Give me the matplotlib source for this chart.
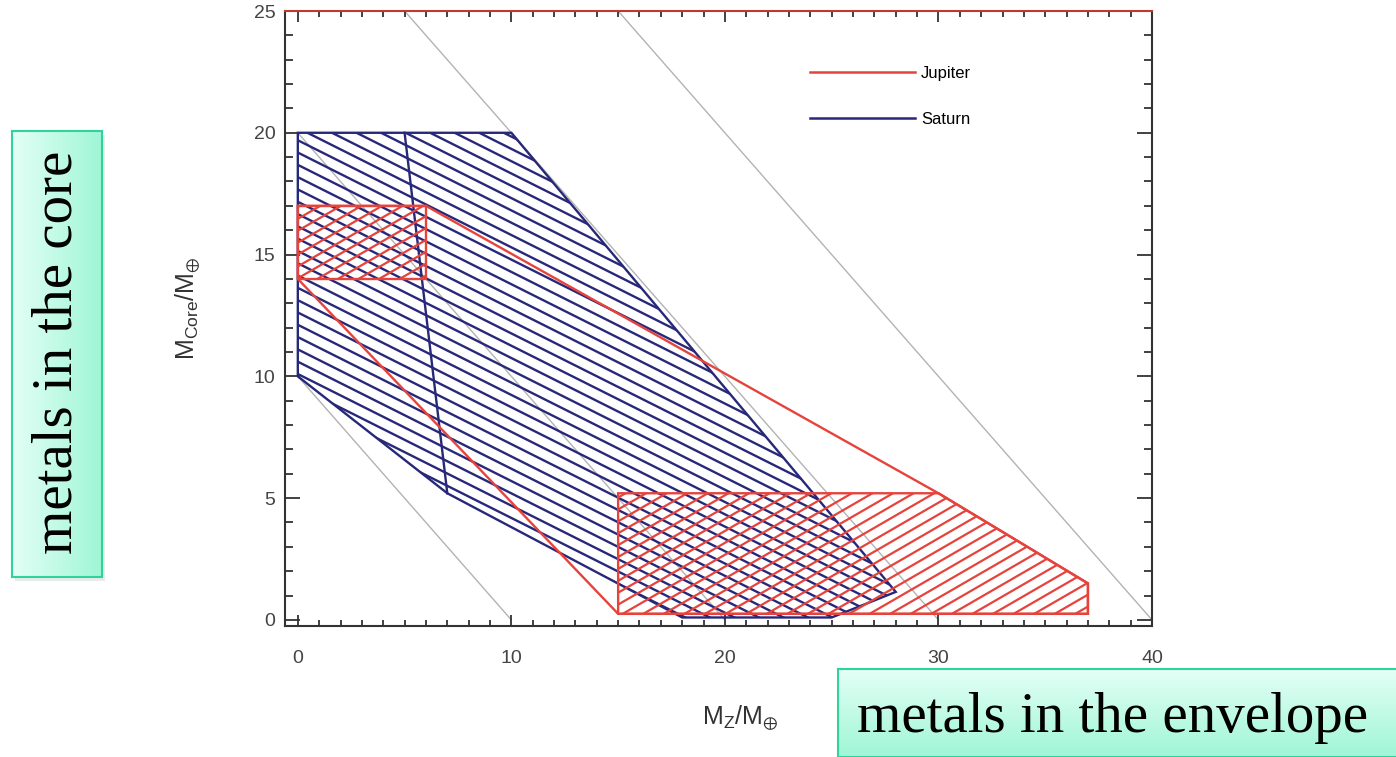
import numpy as np
import matplotlib
matplotlib.use("Agg")
import matplotlib.pyplot as plt
from matplotlib.patches import Polygon
from matplotlib.collections import LineCollection
from matplotlib.lines import Line2D
from matplotlib.ticker import MultipleLocator
from matplotlib.colors import LinearSegmentedColormap

# ---------------- data ----------------
saturn_x = [0, 10, 28, 25, 18, 7, 0]
saturn_y = [20, 20, 1.15, 0.1, 0.1, 5.2, 10]
saturn_split_x = [5, 7]
saturn_split_y = [20, 5.2]

jupiter_x = [0, 6, 30, 37, 37, 15, 0]
jupiter_y = [17, 17, 5.2, 1.5, 0.25, 0.25, 14]
jupiter_core_x = [0, 6, 6, 0]
jupiter_core_y = [14, 14, 17, 17]
jupiter_env_x = [15, 30, 37, 37, 15]
jupiter_env_y = [5.2, 5.2, 1.5, 0.25, 0.25]

total_mass = [10, 20, 30, 40]

series_labels = ["Jupiter", "Saturn"]
x_ticks = [0, 10, 20, 30, 40]
y_ticks = [0, 5, 10, 15, 20, 25]

RED = "#e5433b"
NAVY = "#28287a"

plt.rcParams["font.family"] = ["Liberation Sans", "DejaVu Sans"]
plt.rcParams["mathtext.fontset"] = "custom"
plt.rcParams["mathtext.rm"] = "Liberation Sans"
plt.rcParams["mathtext.it"] = "Liberation Sans"

W, H = 1396, 757
fig = plt.figure(figsize=(W / 100, H / 100), dpi=100)
ax = fig.add_axes([285 / W, 1 - 626 / H, (1152 - 285) / W, (626 - 11) / H])
ax.set_xlim(-0.6, 39.95)
ax.set_ylim(-0.25, 25)

# constant total-mass lines
for c in total_mass:
    ys = np.array([0, min(c, 25)])
    ax.plot(c - ys, ys, color="#b3b3b3", lw=1.0, zorder=1)


def add_hatch(xs, ys, color, angle_deg, spacing_px, lw, z):
    poly = Polygon(np.column_stack([xs, ys]), closed=True, fill=False,
                   edgecolor="none", transform=ax.transData)
    ax.add_patch(poly)
    bb = ax.bbox
    cx, cy = (bb.x0 + bb.x1) / 2, (bb.y0 + bb.y1) / 2
    L = np.hypot(bb.width, bb.height)
    a = np.deg2rad(angle_deg)
    d = np.array([np.cos(a), np.sin(a)])
    n = np.array([-np.sin(a), np.cos(a)])
    inv = ax.transData.inverted()
    segs = []
    for off in np.arange(-L, L, spacing_px):
        p0 = np.array([cx, cy]) + n * off - d * L
        p1 = np.array([cx, cy]) + n * off + d * L
        segs.append(inv.transform(np.vstack([p0, p1])))
    lc = LineCollection(segs, colors=color, linewidths=lw, zorder=z)
    ax.add_collection(lc)
    lc.set_clip_path(poly)


# Saturn
add_hatch(saturn_x, saturn_y, NAVY, -26.6, 11.0, 1.7, 2)
ax.add_patch(Polygon(np.column_stack([saturn_x, saturn_y]), closed=True,
                     fill=False, edgecolor=NAVY, lw=1.7, zorder=3))
ax.plot(saturn_split_x, saturn_split_y, color=NAVY, lw=1.7, zorder=3)

# Jupiter
add_hatch(jupiter_core_x, jupiter_core_y, RED, 30, 10.3, 1.6, 4)
add_hatch(jupiter_env_x, jupiter_env_y, RED, 30, 10.3, 1.6, 4)
ax.add_patch(Polygon(np.column_stack([jupiter_x, jupiter_y]), closed=True,
                     fill=False, edgecolor=RED, lw=1.7, zorder=5))
ax.add_patch(Polygon(np.column_stack([jupiter_core_x, jupiter_core_y]), closed=True,
                     fill=False, edgecolor=RED, lw=1.7, zorder=5))
ax.add_patch(Polygon(np.column_stack([jupiter_env_x, jupiter_env_y]), closed=True,
                     fill=False, edgecolor=RED, lw=1.7, zorder=5))

# axes styling
ax.set_xticks(x_ticks)
ax.set_yticks(y_ticks)
ax.xaxis.set_minor_locator(MultipleLocator(1))
ax.yaxis.set_minor_locator(MultipleLocator(1))
ax.tick_params(which="both", direction="in", top=True, right=True,
               color="#333333", width=1.3, labelcolor="#444444", labelsize=14)
ax.tick_params(axis="x", which="major", length=8, pad=17)
ax.tick_params(axis="x", which="minor", length=4.5)
ax.tick_params(axis="y", which="major", length=11, pad=7)
ax.tick_params(axis="y", which="minor", length=6)
for s in ax.spines.values():
    s.set_color("#333333")
    s.set_linewidth(1.5)
ax.spines["top"].set_color("#c0392b")

# legend
handles = [Line2D([], [], color=RED, lw=1.8), Line2D([], [], color=NAVY, lw=1.8)]
ax.legend(handles, series_labels, loc="upper left",
          bbox_to_anchor=(810 / W, 1 - 66 / H), bbox_transform=fig.transFigure,
          frameon=False, fontsize=12, borderpad=0, borderaxespad=0,
          handlelength=6.3, handletextpad=0.35, labelspacing=1.85)

# axis labels
fig.text(740 / W, 1 - 718 / H, r"$\mathregular{M_{Z}/M_{\oplus}}$",
         ha="center", va="center", fontsize=18, color="#333333")
fig.text(188 / W, 1 - 308 / H, r"$\mathregular{M_{Core}/M_{\oplus}}$",
         ha="center", va="center", fontsize=18, color="#333333", rotation=90)

# annotation boxes
mint = LinearSegmentedColormap.from_list("mint", ["#e4fff6", "#9ff6d6"])
grad = np.linspace(0, 1, 256)

# shadow for core box
sh = fig.add_axes([15 / W, 1 - 581 / H, 90 / W, 446 / H])
sh.set_facecolor("#dcdcdc")
sh.set_xticks([]); sh.set_yticks([])
for s in sh.spines.values():
    s.set_visible(False)
sh.patch.set_alpha(0.6)

b1 = fig.add_axes([12 / W, 1 - 577 / H, 90 / W, 446 / H])
b1.imshow(grad[None, :], aspect="auto", cmap=mint, extent=[0, 1, 0, 1])
b1.set_xticks([]); b1.set_yticks([])
for s in b1.spines.values():
    s.set_color("#2fd39b"); s.set_linewidth(1.5)

b2 = fig.add_axes([838 / W, 0, (1400 - 838) / W, (757 - 669) / H])
b2.imshow(grad[:, None], aspect="auto", cmap=mint, extent=[0, 1, 0, 1], origin="upper")
b2.set_xticks([]); b2.set_yticks([])
for s in b2.spines.values():
    s.set_color("#2fd39b"); s.set_linewidth(1.5)

fig.text(72 / W, 1 - 352 / H, "metals in the core", rotation=90,
         rotation_mode="anchor", ha="center", va="baseline",
         fontsize=41, family=["Liberation Serif", "DejaVu Serif"], color="black", zorder=10)
fig.text(1113 / W, 1 - 732 / H, "metals in the envelope",
         ha="center", va="baseline",
         fontsize=41, family=["Liberation Serif", "DejaVu Serif"], color="black", zorder=10)

fig.savefig("out.png", dpi=100)
